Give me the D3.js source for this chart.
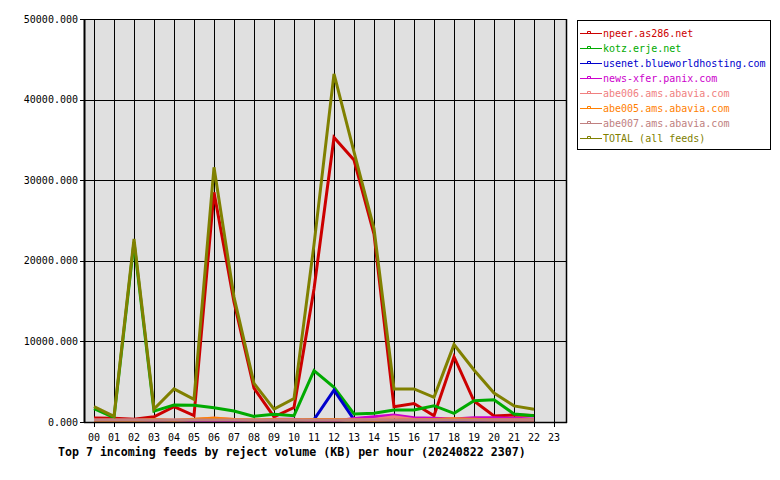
<!DOCTYPE html>
<html><head><meta charset="utf-8">
<script src="https://cdn.jsdelivr.net/npm/d3@7"></script>
<style>body{margin:0;background:#fff}svg{display:block}</style>
</head><body>
<script>
const hours = ["00","01","02","03","04","05","06","07","08","09","10","11","12","13","14","15","16","17","18","19","20","21","22","23"];
const yTicks = [0,10000,20000,30000,40000,50000];
const seriesNames = ["npeer.as286.net","kotz.erje.net","usenet.blueworldhosting.com","news-xfer.panix.com","abe006.ams.abavia.com","abe005.ams.abavia.com","abe007.ams.abavia.com","TOTAL (all feeds)"];
const seriesColors = ["#cc0000","#00aa00","#0000cc","#cc00cc","#f08080","#ff8000","#c08080","#808000"];
const npeer  = [500,480,350,650,1900,800,28500,14900,4200,650,1800,16500,35300,32500,23300,1900,2300,780,8100,2600,750,870,800];
const kotz   = [1650,550,22300,1350,2100,2080,1780,1360,700,950,780,6370,4300,990,1080,1490,1490,2020,1080,2650,2770,990,780];
const usenet = [100,100,100,100,100,250,100,100,100,100,100,300,3950,300,100,100,100,100,100,100,100,100,100];
const panix  = [100,100,100,100,100,100,100,100,100,350,350,100,100,450,650,870,540,450,370,540,540,450,370];
const abe006 = [250,250,250,250,250,300,500,300,250,250,250,250,250,250,300,650,300,250,300,250,250,250,250];
const abe005 = [150,150,150,300,200,350,450,300,250,300,250,300,300,250,200,250,250,300,400,350,250,250,250];
const abe007 = [250,250,250,250,250,250,250,250,250,250,250,250,250,250,250,250,250,250,250,250,250,250,250];
const total  = [1900,700,22700,1600,4100,2800,31600,15500,4800,1600,2900,22000,43200,33500,24000,4100,4100,3060,9600,6450,3600,2000,1570];
const seriesValues = [npeer,kotz,usenet,panix,abe006,abe005,abe007,total];
const title = "Top 7 incoming feeds by reject volume (KB) per hour (20240822 2307)";

const W=780,H=480;
const svg=d3.select("body").append("svg").attr("width",W).attr("height",H);
const L=84,R=566,T=19,B=422;
const x=d3.scaleLinear().domain([-0.5,23.6]).range([L,R]);
const y=d3.scaleLinear().domain([0,50000]).range([B,T]);
const mono="'DejaVu Sans Mono', 'Liberation Mono', monospace";

svg.append("rect").attr("x",L).attr("y",T).attr("width",R-L).attr("height",B-T).attr("fill","#e0e0e0");

// vertical grid + ticks
svg.append("g").selectAll("line").data(hours).join("line")
  .attr("x1",(d,i)=>Math.round(x(i))+0.5).attr("x2",(d,i)=>Math.round(x(i))+0.5)
  .attr("y1",T).attr("y2",B+5).attr("stroke","#000").attr("stroke-width",1);
// horizontal grid + ticks
svg.append("g").selectAll("line").data(yTicks).join("line")
  .attr("x1",L-4).attr("x2",R).attr("y1",d=>Math.round(y(d))+0.5).attr("y2",d=>Math.round(y(d))+0.5)
  .attr("stroke","#000").attr("stroke-width",1);

// y labels
svg.append("g").selectAll("text").data(yTicks).join("text")
  .attr("x",L-6).attr("y",d=>y(d)).attr("dy","0.35em").attr("text-anchor","end")
  .attr("font-family",mono).attr("font-size",10).attr("fill","#000")
  .text(d=>d3.format(".3f")(d));
// x labels
svg.append("g").selectAll("text").data(hours).join("text")
  .attr("x",(d,i)=>x(i)).attr("y",437).attr("dy","0.35em").attr("text-anchor","middle")
  .attr("font-family",mono).attr("font-size",10).attr("fill","#000").text(d=>d);
// title
svg.append("text").attr("x",58).attr("y",452).attr("dy","0.35em")
  .attr("font-family",mono).attr("font-size",11.6).attr("font-weight","bold").attr("fill","#000").text(title);

// lines
const line=d3.line().x((d,i)=>x(i)).y(d=>y(d));
const g=svg.append("g");
seriesValues.forEach((vals,k)=>{
  g.append("path").datum(vals).attr("d",line).attr("fill","none")
   .attr("stroke",seriesColors[k]).attr("stroke-width",3).attr("stroke-linejoin","miter");
});

// frame (drawn over the lines)
svg.append("line").attr("x1",L+0.5).attr("x2",L+0.5).attr("y1",T).attr("y2",B+1).attr("stroke","#000").attr("stroke-width",2);
svg.append("line").attr("x1",R+0.5).attr("x2",R+0.5).attr("y1",T).attr("y2",B+1).attr("stroke","#000").attr("stroke-width",1.5);
svg.append("line").attr("x1",L).attr("x2",R+1).attr("y1",B+0.5).attr("y2",B+0.5).attr("stroke","#000").attr("stroke-width",1.5);

// legend
const lg=svg.append("g");
lg.append("rect").attr("x",577.5).attr("y",20.5).attr("width",193).attr("height",129).attr("fill","#fff").attr("stroke","#000").attr("stroke-width",1);
seriesNames.forEach((n,k)=>{
  const yy=33+15*k;
  lg.append("line").attr("x1",580).attr("x2",602).attr("y1",yy+0.5).attr("y2",yy+0.5).attr("stroke",seriesColors[k]).attr("stroke-width",1);
  lg.append("path").attr("d",`M587.5,${yy+0.5}V${yy-1.5}H590.5V${yy+0.5}`).attr("fill","none").attr("stroke",seriesColors[k]).attr("stroke-width",1);
  lg.append("text").attr("x",603).attr("y",yy).attr("dy","0.35em").attr("font-family",mono).attr("font-size",10)
    .attr("fill",seriesColors[k]).text(n);
});
</script>
</body></html>
